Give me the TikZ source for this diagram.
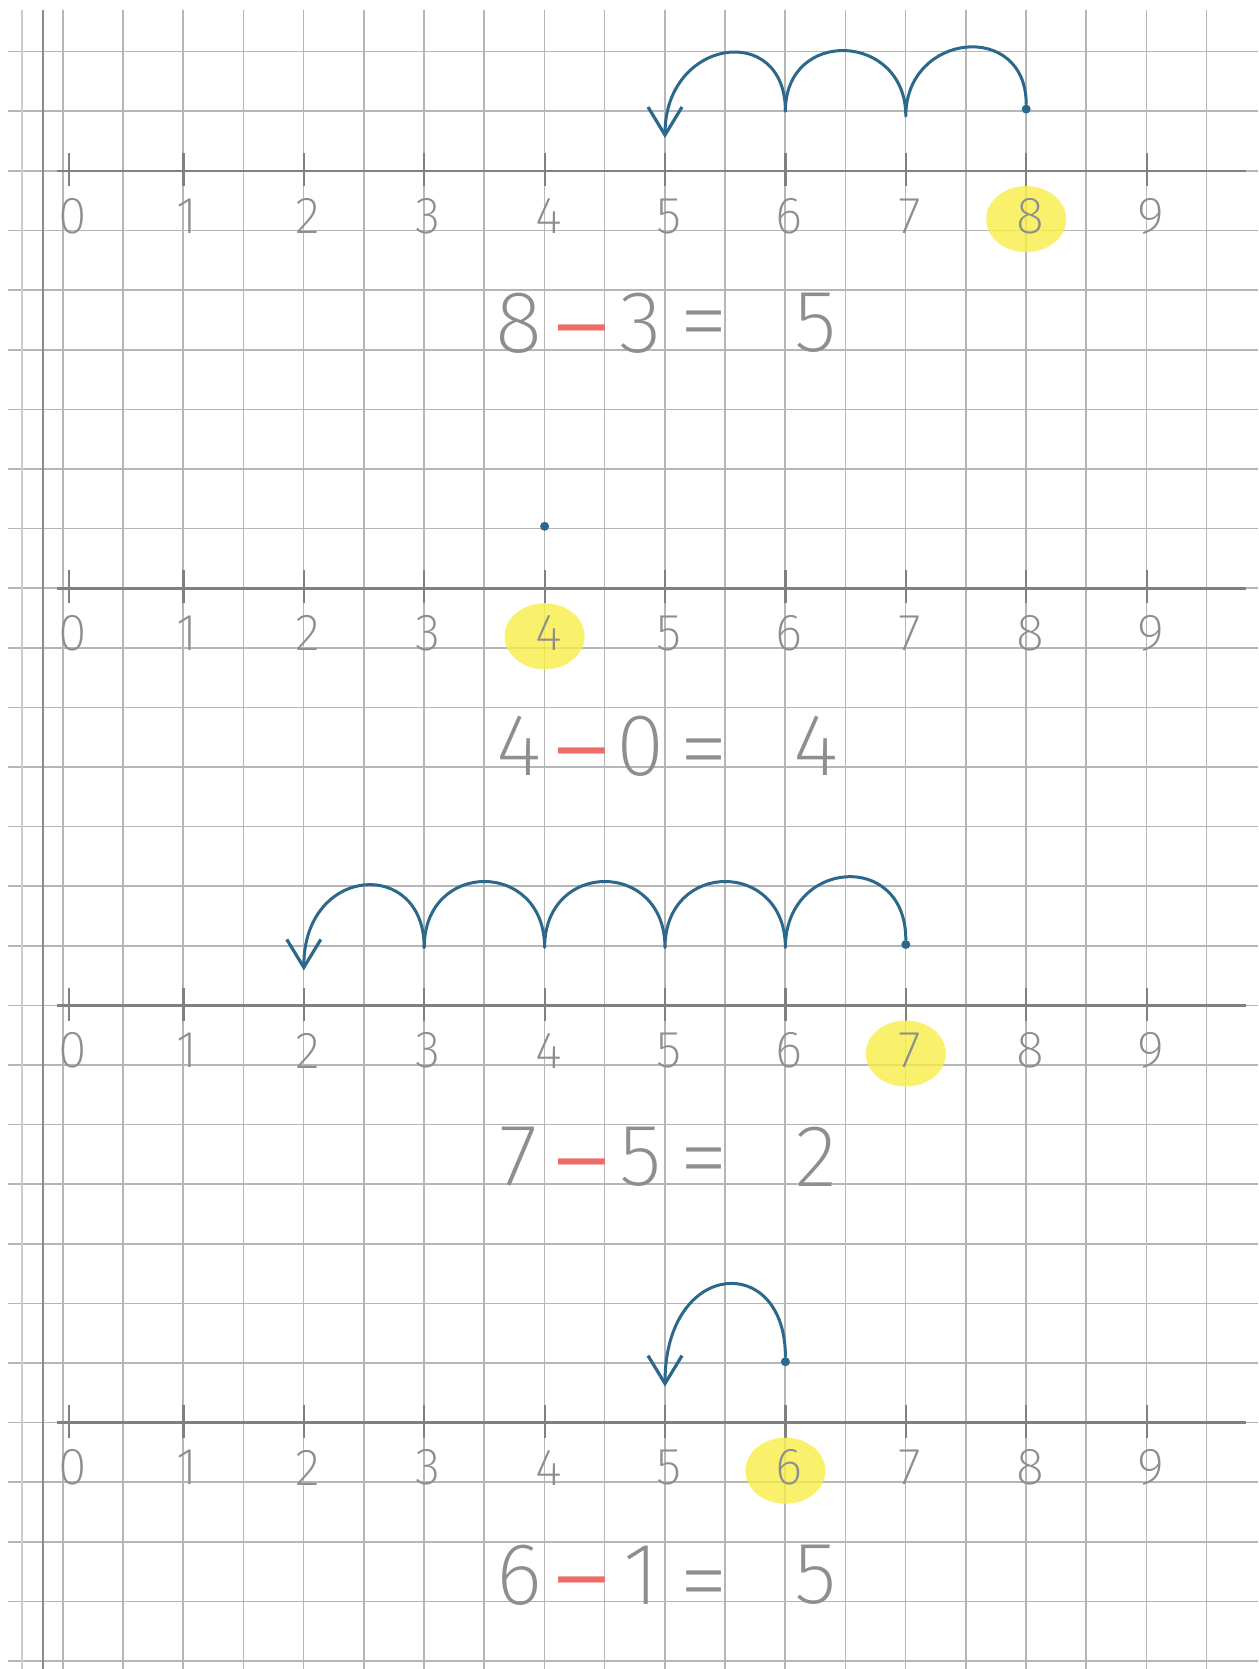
\documentclass[tikz,border=0pt]{standalone}
\usepackage{fontspec}
\IfFontExistsTF{Fira Sans ExtraLight}{\newfontfamily\handfont{Fira Sans ExtraLight}}{%
 \IfFontExistsTF{Fira Sans Light}{\newfontfamily\handfont{Fira Sans Light}}{%
  \IfFontExistsTF{Lato Light}{\newfontfamily\handfont{Lato Light}}{%
   \IfFontExistsTF{Open Sans Light}{\newfontfamily\handfont{Open Sans Light}}{%
    \newfontfamily\handfont{Latin Modern Sans}}}}}
\usetikzlibrary{arrows.meta,calc}
\definecolor{gridc}{RGB}{182,182,182}
\definecolor{marginc}{RGB}{140,140,140}
\definecolor{linec}{RGB}{128,128,128}
\definecolor{digitc}{RGB}{142,142,142}
\definecolor{jumpc}{RGB}{44,104,140}
\definecolor{minusc}{RGB}{238,108,102}
\definecolor{hl}{RGB}{248,238,70}
\tikzset{
  gridline/.style={draw=gridc, line width=0.8pt},
  numline/.style={draw=linec, line width=1.4pt},
  tickmark/.style={draw=linec, line width=1.1pt},
  numlabel/.style={text=digitc, font=\handfont\fontsize{26}{26}\selectfont, inner sep=0pt},
  eqdigit/.style={text=digitc, font=\handfont\fontsize{44}{44}\selectfont, inner sep=0pt},
  eqsign/.style={text=digitc, font=\handfont\fontsize{50}{50}\selectfont, inner sep=0pt},
  minussign/.style={text=minusc, font=\sffamily\fontsize{50}{50}\selectfont, inner sep=0pt},
  jump/.style={draw=jumpc, line width=1.5pt, line cap=round, line join=round},
  jumparrow/.style={jump, -{Straight Barb[length=14pt,width=17pt,line width=1.6pt]}},
  hilite/.style={fill=hl, draw=none, opacity=0.8},
  startdot/.style={circle, fill=jumpc, inner sep=0pt, minimum size=4.5pt},
}
\newcommand\tickX[1]{\ifnum#1=0 69\else{63+120.4*#1}\fi}
\newcommand\numberLine[3]{%
  \draw[numline] (57,#2) -- (1246,#2);
  \foreach \n in {0,...,9} {
    \coordinate (#1\n) at ({\tickX{\n}},#2);
    \draw[tickmark] ($(#1\n)+(0,-18)$) -- ($(#1\n)+(0,15)$);
  }
  \fill[hilite] ({63+120.4*#3},{#2+48}) ellipse [x radius=40, y radius=33];
  \foreach \n in {0,...,9} \node[numlabel] (#1l\n) at ($(#1\n)+(4,45)$) {\n};
}
\newcommand\equationRow[6]{% prefix, y, a, b, result, = y offset
  \node[eqdigit] (#1ea) at (519,#2) {#3};
  \node[minussign] (#1em) at (582,{#2+17}) {\textendash};
  \node[eqdigit] (#1eb) at (641,#2) {#4};
  \node[eqsign] (#1eq) at (704,{#2+#6}) {=};
  \node[eqdigit] (#1er) at (816,#2) {#5};
}
\begin{document}
\begin{tikzpicture}[x=0.5pt,y=-0.5pt]
\useasboundingbox (0,0) rectangle (1258,1669);
\fill[white] (0,0) rectangle (1258,1669);
% squared paper
\foreach \k in {0,...,19} \draw[gridline] ({62.7+60.2*\k},10) -- ({62.7+60.2*\k},1669);
\foreach \k in {0,...,27} \draw[gridline] (8,{51.7+59.6*\k}) -- (1258,{51.7+59.6*\k});
\draw[draw=gridc!70, line width=0.8pt] (22,10) -- (22,1669);
\draw[draw=marginc, line width=1pt] (43,10) -- (43,1669);

% number lines
\numberLine{a}{171.1}{8}
\numberLine{b}{588.3}{4}
\numberLine{c}{1005.5}{7}
\numberLine{d}{1422.7}{6}

% equations
\equationRow{a}{323}{8}{3}{5}{10}
\equationRow{b}{746}{4}{0}{4}{15}
\equationRow{c}{1157}{7}{5}{2}{13}
\equationRow{d}{1575}{6}{1}{5}{18}

% jumps: 8 - 3
\node[startdot] (aS) at ($(a8)+(0,-62)$) {};
\coordinate (aC7) at ($(a7)+(0,-55)$);
\coordinate (aC6) at ($(a6)+(0,-60)$);
\coordinate (aT) at ($(a5)+(0,-33)$);
\draw[jump] (aS.north) .. controls +(0,-84) and +(0,-84) .. (aC7)
  .. controls +(0,-84) and +(0,-84) .. (aC6);
\draw[jumparrow] (aC6) .. controls +(0,-90) and +(0,-100) .. (aT);

% 4 - 0
\node[startdot] (bS) at ($(b4)+(0,-62)$) {};

% jumps: 7 - 5
\node[startdot] (cS) at ($(c7)+(0,-61)$) {};
\coordinate (cC6) at ($(c6)+(0,-58)$);
\coordinate (cC5) at ($(c5)+(0,-58)$);
\coordinate (cC4) at ($(c4)+(0,-58)$);
\coordinate (cC3) at ($(c3)+(0,-58)$);
\coordinate (cT) at ($(c2)+(0,-35)$);
\draw[jump] (cS.north) .. controls +(0,-90) and +(0,-88) .. (cC6)
  .. controls +(0,-88) and +(0,-88) .. (cC5)
  .. controls +(0,-88) and +(0,-88) .. (cC4)
  .. controls +(0,-88) and +(0,-88) .. (cC3);
\draw[jumparrow] (cC3) .. controls +(0,-90) and +(0,-106) .. (cT);

% jumps: 6 - 1
\node[startdot] (dS) at ($(d6)+(0,-61)$) {};
\coordinate (dT) at ($(d5)+(0,-36)$);
\draw[jumparrow] (dS.north) .. controls +(0,-105) and +(0,-128) .. (dT);
\end{tikzpicture}
\end{document}
